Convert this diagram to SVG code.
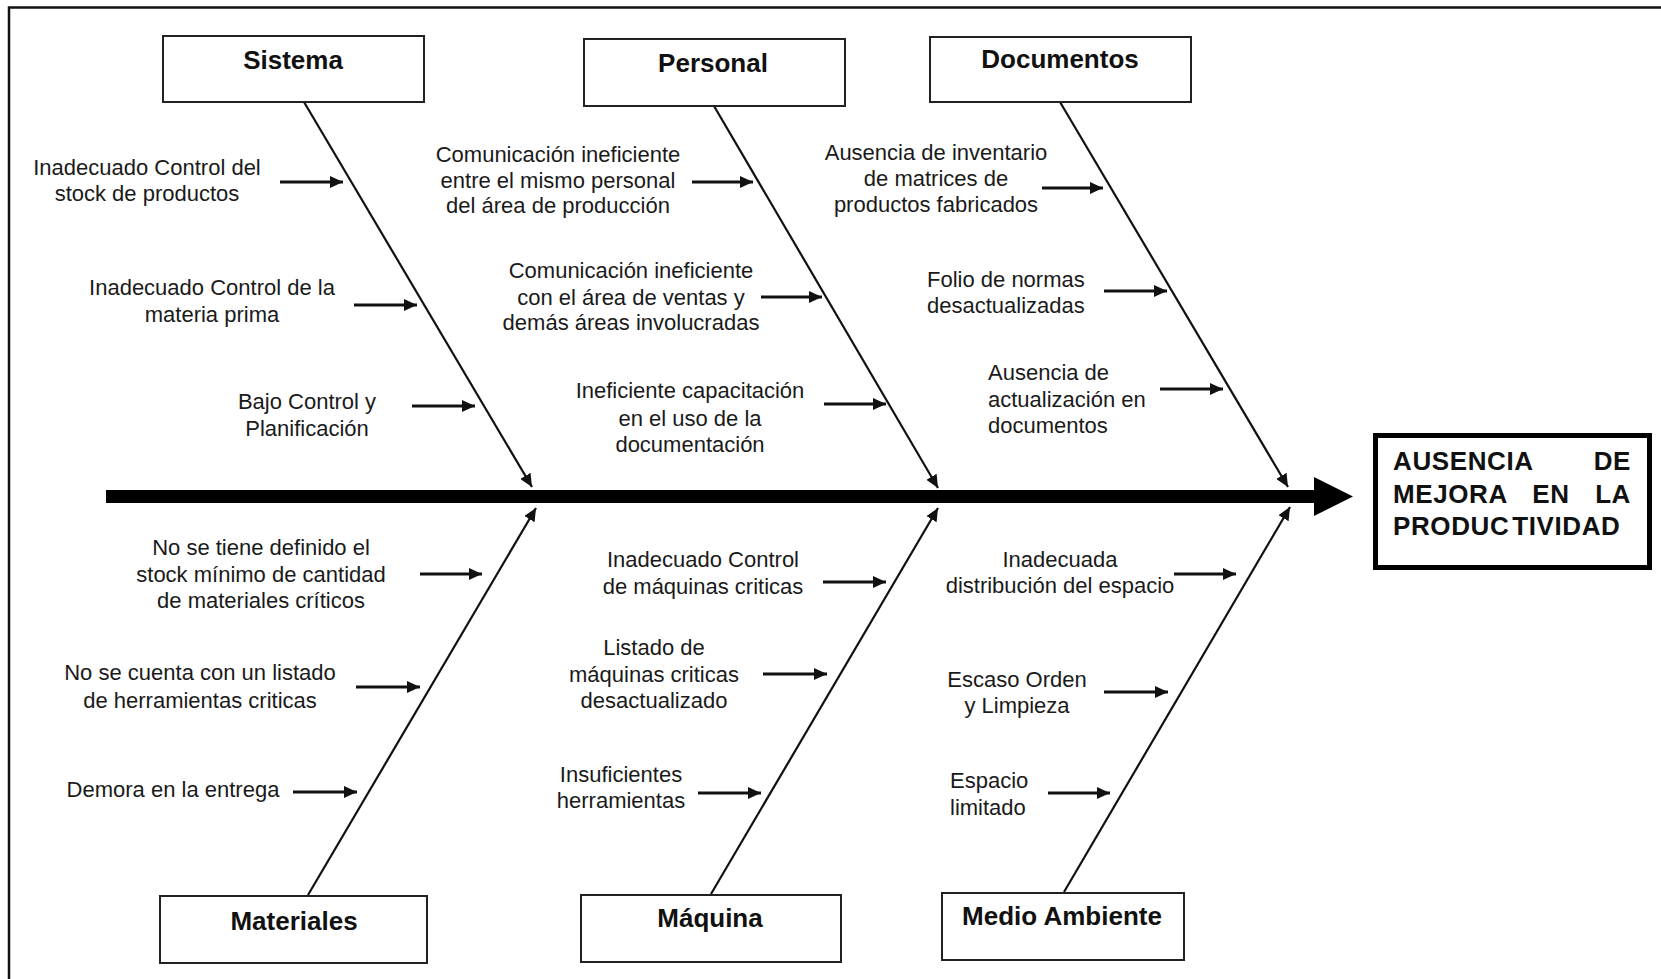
<svg xmlns="http://www.w3.org/2000/svg" width="1661" height="979" viewBox="0 0 1661 979">
<defs>
<style>
.bg{fill:#fff}
.frame{fill:none;stroke:#111;stroke-width:2.5}
.box{fill:#fff;stroke:#222;stroke-width:2}
.title{font-family:"Liberation Sans",Arial,sans-serif;font-weight:bold;font-size:26px;fill:#111;text-anchor:middle}
.lbl{font-family:"Liberation Sans",Arial,sans-serif;font-size:22px;fill:#1a1a1a;text-anchor:middle}
.lbl.s{text-anchor:start}
.bone{stroke:#111;stroke-width:2.2;fill:none}
.cause{stroke:#111;stroke-width:2.8;fill:none}
.eff{font-family:"Liberation Sans",Arial,sans-serif;font-weight:bold;font-size:26px;fill:#111;letter-spacing:0.6px}
</style>
<marker id="ah" markerUnits="userSpaceOnUse" markerWidth="14" markerHeight="12" refX="13" refY="6" orient="auto">
<path d="M0,0 L13,6 L0,12 Z" fill="#111"/>
</marker>
</defs>
<rect class="bg" x="0" y="0" width="1661" height="979"/>
<path class="frame" d="M9,979 V7.5 H1661"/>

<g id="spine">
<rect x="106" y="490" width="1210" height="13" fill="#000"/>
<polygon points="1314,477 1353,496.5 1314,516" fill="#000"/>
</g>

<g id="connectors">
<line class="bone" x1="304" y1="102" x2="532" y2="487" marker-end="url(#ah)"/>
<line class="bone" x1="714" y1="106" x2="938" y2="488" marker-end="url(#ah)"/>
<line class="bone" x1="1060" y1="102" x2="1288" y2="487" marker-end="url(#ah)"/>
<line class="bone" x1="308" y1="895" x2="536" y2="508" marker-end="url(#ah)"/>
<line class="bone" x1="711" y1="894" x2="938" y2="508" marker-end="url(#ah)"/>
<line class="bone" x1="1064" y1="892" x2="1290" y2="507" marker-end="url(#ah)"/>

<line class="cause" x1="280" y1="182" x2="343" y2="182" marker-end="url(#ah)"/>
<line class="cause" x1="354" y1="305" x2="417" y2="305" marker-end="url(#ah)"/>
<line class="cause" x1="412" y1="406" x2="475" y2="406" marker-end="url(#ah)"/>
<line class="cause" x1="692" y1="182" x2="753" y2="182" marker-end="url(#ah)"/>
<line class="cause" x1="761" y1="297" x2="822" y2="297" marker-end="url(#ah)"/>
<line class="cause" x1="824" y1="404" x2="886" y2="404" marker-end="url(#ah)"/>
<line class="cause" x1="1042" y1="188" x2="1103" y2="188" marker-end="url(#ah)"/>
<line class="cause" x1="1104" y1="291" x2="1167" y2="291" marker-end="url(#ah)"/>
<line class="cause" x1="1160" y1="389" x2="1223" y2="389" marker-end="url(#ah)"/>
<line class="cause" x1="420" y1="574" x2="482" y2="574" marker-end="url(#ah)"/>
<line class="cause" x1="356" y1="687" x2="420" y2="687" marker-end="url(#ah)"/>
<line class="cause" x1="293" y1="792" x2="357" y2="792" marker-end="url(#ah)"/>
<line class="cause" x1="823" y1="582" x2="886" y2="582" marker-end="url(#ah)"/>
<line class="cause" x1="763" y1="674" x2="827" y2="674" marker-end="url(#ah)"/>
<line class="cause" x1="698" y1="793" x2="761" y2="793" marker-end="url(#ah)"/>
<line class="cause" x1="1174" y1="574" x2="1236" y2="574" marker-end="url(#ah)"/>
<line class="cause" x1="1104" y1="692" x2="1168" y2="692" marker-end="url(#ah)"/>
<line class="cause" x1="1048" y1="793" x2="1110" y2="793" marker-end="url(#ah)"/>
</g>

<g id="sistema">
<rect class="box" x="163" y="36" width="261" height="66"/>
<text class="title" x="293" y="69">Sistema</text>
</g>
<g id="personal">
<rect class="box" x="584" y="39" width="261" height="67"/>
<text class="title" x="713" y="72">Personal</text>
</g>
<g id="documentos">
<rect class="box" x="930" y="37" width="261" height="65"/>
<text class="title" x="1060" y="68">Documentos</text>
</g>
<g id="materiales">
<rect class="box" x="160" y="896" width="267" height="67"/>
<text class="title" x="294" y="930">Materiales</text>
</g>
<g id="maquina">
<rect class="box" x="581" y="895" width="260" height="67"/>
<text class="title" x="710" y="927">Máquina</text>
</g>
<g id="medio-ambiente">
<rect class="box" x="942" y="893" width="242" height="67"/>
<text class="title" x="1062" y="925">Medio Ambiente</text>
</g>

<g id="efecto">
<rect x="1375.5" y="435.5" width="274" height="132" fill="#fff" stroke="#000" stroke-width="5"/>
<text class="eff" x="1393" y="470">AUSENCIA</text>
<text class="eff" x="1631" y="470" text-anchor="end">DE</text>
<text class="eff" x="1393" y="503">MEJORA</text>
<text class="eff" x="1551" y="503" text-anchor="middle">EN</text>
<text class="eff" x="1631" y="503" text-anchor="end">LA</text>
<text class="eff" x="1393" y="535">PRODUC<tspan dx="3">TIVIDAD</tspan></text>
</g>

<g id="causa-sistema-1"><text class="lbl" x="147" y="174.5">Inadecuado Control del<tspan x="147" y="201">stock de productos</tspan></text></g>
<g id="causa-sistema-2"><text class="lbl" x="212" y="295">Inadecuado Control de la<tspan x="212" y="322">materia prima</tspan></text></g>
<g id="causa-sistema-3"><text class="lbl" x="307" y="409">Bajo Control y<tspan x="307" y="436">Planificación</tspan></text></g>

<g id="causa-personal-1"><text class="lbl" x="558" y="162">Comunicación ineficiente<tspan x="558" y="188">entre el mismo personal</tspan><tspan x="558" y="213">del área de producción</tspan></text></g>
<g id="causa-personal-2"><text class="lbl" x="631" y="278">Comunicación ineficiente<tspan x="631" y="305">con el área de ventas y</tspan><tspan x="631" y="330">demás áreas involucradas</tspan></text></g>
<g id="causa-personal-3"><text class="lbl" x="690" y="398">Ineficiente capacitación<tspan x="690" y="426">en el uso de la</tspan><tspan x="690" y="452">documentación</tspan></text></g>

<g id="causa-documentos-1"><text class="lbl" x="936" y="160">Ausencia de inventario<tspan x="936" y="186">de matrices de</tspan><tspan x="936" y="212">productos fabricados</tspan></text></g>
<g id="causa-documentos-2"><text class="lbl s" x="927" y="287">Folio de normas<tspan x="927" y="313">desactualizadas</tspan></text></g>
<g id="causa-documentos-3"><text class="lbl s" x="988" y="380">Ausencia de<tspan x="988" y="407">actualización en</tspan><tspan x="988" y="433">documentos</tspan></text></g>

<g id="causa-materiales-1"><text class="lbl" x="261" y="555">No se tiene definido el<tspan x="261" y="582">stock mínimo de cantidad</tspan><tspan x="261" y="608">de materiales críticos</tspan></text></g>
<g id="causa-materiales-2"><text class="lbl" x="200" y="680">No se cuenta con un listado<tspan x="200" y="708">de herramientas criticas</tspan></text></g>
<g id="causa-materiales-3"><text class="lbl" x="173" y="797">Demora en la entrega</text></g>

<g id="causa-maquina-1"><text class="lbl" x="703" y="567">Inadecuado Control<tspan x="703" y="594">de máquinas criticas</tspan></text></g>
<g id="causa-maquina-2"><text class="lbl" x="654" y="655">Listado de<tspan x="654" y="682">máquinas criticas</tspan><tspan x="654" y="708">desactualizado</tspan></text></g>
<g id="causa-maquina-3"><text class="lbl" x="621" y="782">Insuficientes<tspan x="621" y="808">herramientas</tspan></text></g>

<g id="causa-medio-1"><text class="lbl" x="1060" y="567">Inadecuada<tspan x="1060" y="593">distribución del espacio</tspan></text></g>
<g id="causa-medio-2"><text class="lbl" x="1017" y="687">Escaso Orden<tspan x="1017" y="713">y Limpieza</tspan></text></g>
<g id="causa-medio-3"><text class="lbl s" x="950" y="788">Espacio<tspan x="950" y="815">limitado</tspan></text></g>
</svg>
